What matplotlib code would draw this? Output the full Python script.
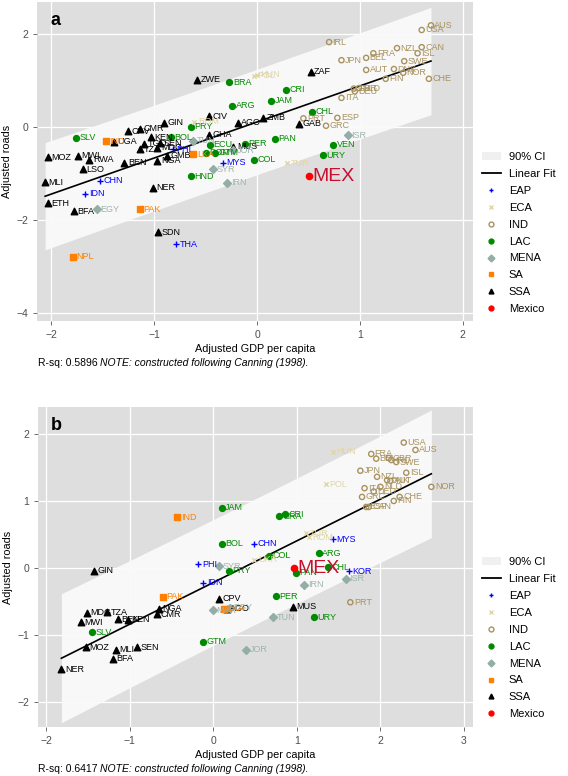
import numpy as np
import matplotlib.pyplot as plt
from matplotlib.lines import Line2D
from matplotlib.patches import Patch

plt.rcParams['font.family'] = ['Liberation Sans', 'DejaVu Sans']

# region groups
groups = ['EAP', 'ECA', 'IND', 'LAC', 'MENA', 'SA', 'SSA', 'Mexico']

# panel a
a_codes = ['ZWE', 'ZAF', 'CIV', 'GIN', 'AGO', 'ZMB', 'CPV', 'CMR', 'UGA', 'KEN',
           'GHA', 'MUS', 'TGO', 'SEN', 'TZA', 'MDG', 'GMB', 'NGA', 'MOZ', 'MWI',
           'RWA', 'BEN', 'LSO', 'MLI', 'NER', 'ETH', 'BFA', 'SDN', 'GAB',
           'BRA', 'CRI', 'JAM', 'ARG', 'PRY', 'SLV', 'BOL', 'ECU', 'PER', 'PAN',
           'DOM', 'GTM', 'COL', 'HND', 'CHL', 'VEN', 'URY',
           'PHI', 'MYS', 'CHN', 'IDN', 'THA',
           'POL', 'HUN', 'ROM', 'TUR',
           'IRL', 'JPN', 'BEL', 'FRA', 'NZL', 'CAN', 'ISL', 'AUS', 'USA', 'SWE',
           'AUT', 'DNK', 'NOR', 'CHE', 'FIN', 'GBR', 'NLD', 'DEU', 'ITA', 'PRT',
           'ESP', 'GRC',
           'TUN', 'JOR', 'SYR', 'IRN', 'ISR', 'EGY',
           'IND', 'LKA', 'PAK', 'NPL',
           'MEX']
a_groups = (['SSA'] * 29 + ['LAC'] * 17 + ['EAP'] * 5 + ['ECA'] * 4 + ['IND'] * 22
            + ['MENA'] * 6 + ['SA'] * 4 + ['Mexico'])
a_x = [-0.58, 0.52, -0.47, -0.90, -0.19, 0.06, -1.25, -1.14, -1.39, -1.03,
       -0.47, -0.23, -1.10, -0.94, -1.14, -0.97, -0.88, -0.97, -2.03, -1.74,
       -1.63, -1.29, -1.69, -2.06, -1.01, -2.03, -1.78, -0.96, 0.41,
       -0.27, 0.28, 0.14, -0.24, -0.64, -1.76, -0.84, -0.46, -0.12, 0.17,
       -0.50, -0.41, -0.03, -0.64, 0.53, 0.74, 0.64,
       -0.82, -0.33, -1.53, -1.67, -0.79,
       -0.03, 0.00, -0.61, 0.29,
       0.70, 0.82, 1.06, 1.13, 1.36, 1.60, 1.56, 1.69, 1.60, 1.43,
       1.06, 1.33, 1.42, 1.67, 1.25, 0.94, 0.99, 0.95, 0.82, 0.45,
       0.78, 0.67,
       -0.62, -0.23, -0.43, -0.29, 0.88, -1.56,
       -1.47, -0.62, -1.14, -1.79,
       0.50]
a_y = [1.01, 1.18, 0.22, 0.08, 0.09, 0.19, -0.10, -0.04, -0.32, -0.23,
       -0.17, -0.43, -0.37, -0.36, -0.49, -0.45, -0.63, -0.73, -0.66, -0.62,
       -0.71, -0.78, -0.92, -1.19, -1.31, -1.65, -1.82, -2.27, 0.06,
       0.96, 0.79, 0.56, 0.45, 0.00, -0.24, -0.23, -0.39, -0.37, -0.26,
       -0.56, -0.56, -0.71, -1.07, 0.32, -0.39, -0.61,
       -0.49, -0.78, -1.16, -1.44, -2.53,
       1.10, 1.12, 0.11, -0.79,
       1.82, 1.43, 1.48, 1.58, 1.69, 1.71, 1.58, 2.18, 2.08, 1.41,
       1.22, 1.24, 1.16, 1.03, 1.03, 0.82, 0.83, 0.76, 0.62, 0.18,
       0.19, 0.02,
       -0.30, -0.51, -0.92, -1.21, -0.18, -1.78,
       -0.31, -0.59, -1.78, -2.80,
       -1.07]
a_rsq = '0.5896'

# panel b
b_codes = ['GIN', 'CPV', 'AGO', 'NGA', 'CMR', 'TZA', 'MDG', 'MWI', 'BEN', 'KEN',
           'MOZ', 'MLI', 'SEN', 'BFA', 'NER', 'MUS',
           'JAM', 'BOL', 'PRY', 'COL', 'BRA', 'CRI', 'SLV', 'GTM', 'PER', 'PAN',
           'ARG', 'CHL', 'URY',
           'CHN', 'PHI', 'IDN', 'MYS', 'KOR',
           'UKR', 'TUR', 'ROM', 'HUN', 'POL',
           'SYR', 'MAR', 'EGY', 'JOR', 'TUN', 'IRN', 'ISR',
           'IND', 'PAK', 'LKA',
           'USA', 'AUS', 'FRA', 'BEL', 'GBR', 'IRL', 'SWE', 'JPN', 'ISL', 'NZL',
           'DNK', 'AUT', 'NLD', 'ITA', 'DEU', 'GRC', 'CHE', 'FIN', 'ESP', 'CAN',
           'NOR', 'PRT',
           'MEX']
b_groups = (['SSA'] * 16 + ['LAC'] * 13 + ['EAP'] * 5 + ['ECA'] * 5 + ['MENA'] * 7
            + ['SA'] * 3 + ['IND'] * 22 + ['Mexico'])
b_x = [-1.43, 0.07, 0.16, -0.65, -0.67, -1.27, -1.51, -1.59, -1.14, -1.02,
       -1.53, -1.17, -0.91, -1.20, -1.82, 0.95,
       0.10, 0.10, 0.19, 0.67, 0.79, 0.86, -1.45, -0.12, 0.75, 0.99,
       1.26, 1.37, 1.20,
       0.49, -0.18, -0.12, 1.43, 1.62,
       0.49, 1.11, 1.14, 1.43, 1.35,
       0.07, -0.01, 0.20, 0.39, 0.72, 1.09, 1.59,
       -0.43, -0.60, 0.13,
       2.28, 2.42, 1.89, 1.95, 2.10, 2.13, 2.19, 1.76, 2.31, 1.96,
       2.08, 2.12, 2.00, 1.81, 1.92, 1.78, 2.23, 2.16, 1.83, 1.86,
       2.61, 1.64,
       0.96]
b_y = [-0.04, -0.46, -0.61, -0.61, -0.69, -0.66, -0.67, -0.81, -0.76, -0.77,
       -1.18, -1.22, -1.18, -1.35, -1.51, -0.58,
       0.90, 0.36, -0.04, 0.18, 0.77, 0.80, -0.96, -1.10, -0.42, -0.07,
       0.22, 0.01, -0.73,
       0.36, 0.06, -0.22, 0.43, -0.05,
       0.12, 0.52, 0.46, 1.73, 1.25,
       0.03, -0.63, -0.59, -1.22, -0.73, -0.25, -0.16,
       0.76, -0.43, -0.61,
       1.87, 1.76, 1.70, 1.63, 1.64, 1.61, 1.58, 1.45, 1.42, 1.36,
       1.31, 1.30, 1.21, 1.19, 1.14, 1.06, 1.06, 1.00, 0.91, 0.91,
       1.21, -0.51,
       0.00]
b_rsq = '0.6417'

style = {
    'EAP': dict(marker='+', color='#0000ff', label_color='#0000ff', s=22, fill=True),
    'ECA': dict(marker='x', color='#e0d6a6', label_color='#e0d6a6', s=10, fill=True),
    'IND': dict(marker='o', color='#a8925f', label_color='#a8925f', s=14, fill=False),
    'LAC': dict(marker='o', color='#008a00', label_color='#008a00', s=18, fill=True),
    'MENA': dict(marker='D', color='#92aea7', label_color='#9db5af', s=16, fill=True),
    'SA': dict(marker='s', color='#ff8000', label_color='#ff8000', s=18, fill=True),
    'SSA': dict(marker='^', color='black', label_color='black', s=22, fill=True),
    'Mexico': dict(marker='o', color='#ff0000', label_color='#c8102e', s=20, fill=True),
}


def draw_panel(ax, codes, grp, xs, ys, xlim, ylim, xticks, yticks, letter):
    xs = np.array(xs)
    ys = np.array(ys)
    ax.set_facecolor('#dedede')
    ax.set_xlim(*xlim)
    ax.set_ylim(*ylim)
    ax.set_xticks(xticks)
    ax.set_yticks(yticks)
    ax.grid(True, color='white', linewidth=0.9)
    ax.set_axisbelow(True)
    for s in ax.spines.values():
        s.set_visible(False)
    ax.tick_params(colors='#555555', labelsize=7.5, length=3, width=0.6,
                   labelcolor='#4d4d4d')

    # linear fit and 90% prediction band
    slope, icpt = np.polyfit(xs, ys, 1)
    n = len(xs)
    resid = ys - (icpt + slope * xs)
    s_err = np.sqrt(np.sum(resid ** 2) / (n - 2))
    xx = np.linspace(xs.min(), xs.max(), 100)
    yy = icpt + slope * xx
    half = 1.645 * s_err * np.sqrt(1 + 1 / n + (xx - xs.mean()) ** 2 / np.sum((xs - xs.mean()) ** 2))
    ax.fill_between(xx, yy - half, yy + half, color='#fafafa', alpha=0.95,
                    linewidth=0, zorder=1)
    ax.plot(xx, yy, color='black', linewidth=1.2, zorder=2)

    for c, g, x, y in zip(codes, grp, xs, ys):
        st = style[g]
        if st['fill']:
            ax.scatter(x, y, marker=st['marker'], color=st['color'], s=st['s'],
                       linewidths=1, zorder=3)
        else:
            ax.scatter(x, y, marker=st['marker'], facecolors='none',
                       edgecolors=st['color'], s=st['s'], linewidths=1, zorder=3)
        if g == 'Mexico':
            ax.annotate(c, (x, y), xytext=(3, 0), textcoords='offset points',
                        va='center', ha='left', fontsize=14,
                        color=st['label_color'], zorder=4)
        else:
            ax.annotate(c, (x, y), xytext=(2.5, 0), textcoords='offset points',
                        va='center', ha='left', fontsize=6.5,
                        color=st['label_color'], zorder=4)

    ax.text(0.03, 0.97, letter, transform=ax.transAxes, fontsize=13,
            fontweight='bold', va='top', ha='left')
    ax.set_xlabel('Adjusted GDP per capita', fontsize=7.8, labelpad=3)
    ax.set_ylabel('Adjusted roads', fontsize=7.8, labelpad=3)


def legend_handles():
    handles = [Patch(facecolor='#f0f0f0', edgecolor='none', label='90% CI'),
               Line2D([], [], color='black', linewidth=1.3, label='Linear Fit')]
    for g in groups:
        st = style[g]
        if st['fill']:
            h = Line2D([], [], linestyle='none', marker=st['marker'],
                       color=st['color'], markersize=3.5, label=g)
        else:
            h = Line2D([], [], linestyle='none', marker=st['marker'],
                       markerfacecolor='none', markeredgecolor=st['color'],
                       markersize=3.5, label=g)
        handles.append(h)
    return handles


fig = plt.figure(figsize=(5.68, 7.76), dpi=100)

ax_a = fig.add_axes([0.065, 0.5863, 0.768, 0.411])
draw_panel(ax_a, a_codes, a_groups, a_x, a_y, (-2.14, 2.10), (-4.18, 2.68),
           [-2, -1, 0, 1, 2], [-4, -2, 0, 2], 'a')

ax_b = fig.add_axes([0.0669, 0.0631, 0.766, 0.4124])
draw_panel(ax_b, b_codes, b_groups, b_x, b_y, (-2.1, 3.11), (-2.37, 2.40),
           [-2, -1, 0, 1, 2, 3], [-2, -1, 0, 1, 2], 'b')

# legends sit to the right of each panel
for top in [0.804, 0.282]:
    fig.legend(handles=legend_handles(), loc='upper left',
               bbox_to_anchor=(0.848, top), frameon=False, fontsize=8,
               handlelength=1.7, handletextpad=0.75, labelspacing=0.62,
               borderpad=0, borderaxespad=0)

# notes under each panel, placed in figure pixels
for ypix, rsq in [(363, a_rsq), (769, b_rsq)]:
    t1 = fig.text(38 / 568, 1 - ypix / 776, 'R-sq: ' + rsq + ' ',
                  fontsize=7.5, va='center', ha='left')
    fig.canvas.draw()
    fig.text(t1.get_window_extent().x1 / fig.bbox.width, 1 - ypix / 776,
             'NOTE: constructed following Canning (1998).',
             fontsize=7.5, va='center', ha='left', style='italic')

fig.savefig('out.png', dpi=100)
